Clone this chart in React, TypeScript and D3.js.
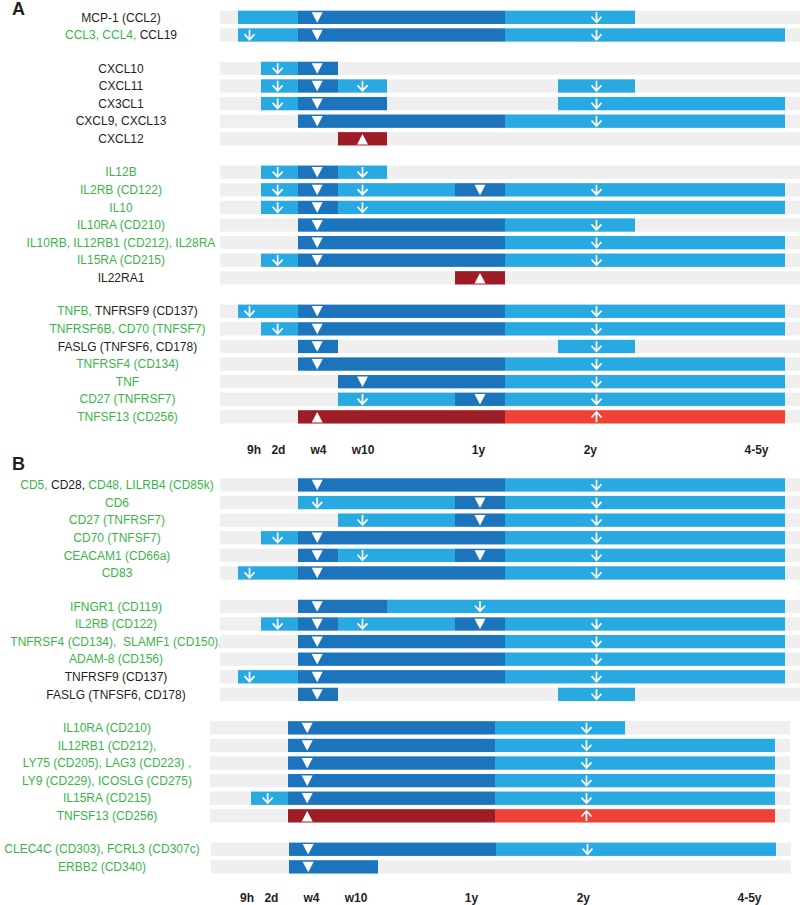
import React from 'react';
import * as d3 from 'd3';

type Row = { label: [string, string][]; segs: string; marks: string };

// colours
const FILL: Record<string, string> = { L: '#29a9e1', D: '#1c75bc', R: '#9e1c26', O: '#ef4136' };
const TEXT: Record<string, string> = { g: '#39b54a', k: '#231f20' };
const GREY = '#efefef';

// time axis
const tickLabels = ['9h', '2d', 'w4', 'w10', '1y', '2y', '4-5y'];
const tickIdx = [0.7, 1.47, 2.51, 3.51, 5.47, 7.42, 8.81];
const markerIdx: Record<string, number> = { '9h': 0.5, '2d': 1.45, w4: 2.48, w10: 3.5, '1y': 5.5, '2y': 7.5 };

// Panel A
const groupA1: Row[] = [
  { label: [['MCP-1 (CCL2)', 'k']], segs: 'L0-2 D2-6 L6-8', marks: 'w4:v 2y:a' },
  { label: [['CCL3, CCL4,', 'g'], [' CCL19', 'k']], segs: 'L0-2 D2-6 L6-9', marks: '9h:a w4:v 2y:a' },
];
const groupA2: Row[] = [
  { label: [['CXCL10', 'k']], segs: 'L1-2 D2-3', marks: '2d:a w4:v' },
  { label: [['CXCL11', 'k']], segs: 'L1-2 D2-3 L3-4 L7-8', marks: '2d:a w4:v w10:a 2y:a' },
  { label: [['CX3CL1', 'k']], segs: 'L1-2 D2-4 L7-9', marks: '2d:a w4:v 2y:a' },
  { label: [['CXCL9, CXCL13', 'k']], segs: 'D2-6 L6-9', marks: 'w4:v 2y:a' },
  { label: [['CXCL12', 'k']], segs: 'R3-4', marks: 'w10:^' },
];
const groupA3: Row[] = [
  { label: [['IL12B', 'g']], segs: 'L1-2 D2-3 L3-4', marks: '2d:a w4:v w10:a' },
  { label: [['IL2RB (CD122)', 'g']], segs: 'L1-2 D2-3 L3-5 D5-6 L6-9', marks: '2d:a w4:v w10:a 1y:v 2y:a' },
  { label: [['IL10', 'g']], segs: 'L1-2 D2-3 L3-9', marks: '2d:a w4:v w10:a' },
  { label: [['IL10RA (CD210)', 'g']], segs: 'D2-6 L6-8', marks: 'w4:v 2y:a' },
  { label: [['IL10RB, IL12RB1 (CD212), IL28RA', 'g']], segs: 'D2-6 L6-9', marks: 'w4:v 2y:a' },
  { label: [['IL15RA (CD215)', 'g']], segs: 'L1-2 D2-6 L6-9', marks: '2d:a w4:v 2y:a' },
  { label: [['IL22RA1', 'k']], segs: 'R5-6', marks: '1y:^' },
];
const groupA4: Row[] = [
  { label: [['TNFB,', 'g'], [' TNFRSF9 (CD137)', 'k']], segs: 'L0-2 D2-6 L6-9', marks: '9h:a w4:v 2y:a' },
  { label: [['TNFRSF6B, CD70 (TNFSF7)', 'g']], segs: 'L1-2 D2-6 L6-9', marks: '2d:a w4:v 2y:a' },
  { label: [['FASLG (TNFSF6, CD178)', 'k']], segs: 'D2-3 L7-8', marks: 'w4:v 2y:a' },
  { label: [['TNFRSF4 (CD134)', 'g']], segs: 'D2-6 L6-9', marks: 'w4:v 2y:a' },
  { label: [['TNF', 'g']], segs: 'D3-6 L6-9', marks: 'w10:v 2y:a' },
  { label: [['CD27 (TNFRSF7)', 'g']], segs: 'L3-5 D5-6 L6-9', marks: 'w10:a 1y:v 2y:a' },
  { label: [['TNFSF13 (CD256)', 'g']], segs: 'R2-6 O6-9', marks: 'w4:^ 2y:A' },
];

// Panel B
const groupB1: Row[] = [
  { label: [['CD5,', 'g'], [' CD28,', 'k'], [' CD48, LILRB4 (CD85k)', 'g']], segs: 'D2-6 L6-9', marks: 'w4:v 2y:a' },
  { label: [['CD6', 'g']], segs: 'L2-5 D5-6 L6-9', marks: 'w4:a 1y:v 2y:a' },
  { label: [['CD27 (TNFRSF7)', 'g']], segs: 'L3-5 D5-6 L6-9', marks: 'w10:a 1y:v 2y:a' },
  { label: [['CD70 (TNFSF7)', 'g']], segs: 'L1-2 D2-6 L6-9', marks: '2d:a w4:v 2y:a' },
  { label: [['CEACAM1 (CD66a)', 'g']], segs: 'D2-3 L3-5 D5-6 L6-9', marks: 'w4:v w10:a 1y:v 2y:a' },
  { label: [['CD83', 'g']], segs: 'L0-2 D2-6 L6-9', marks: '9h:a w4:v 2y:a' },
];
const groupB2: Row[] = [
  { label: [['IFNGR1 (CD119)', 'g']], segs: 'D2-4 L4-9', marks: 'w4:v 1y:a' },
  { label: [['IL2RB (CD122)', 'g']], segs: 'L1-2 D2-3 L3-5 D5-6 L6-9', marks: '2d:a w4:v w10:a 1y:v 2y:a' },
  { label: [['TNFRSF4 (CD134),  SLAMF1 (CD150),', 'g']], segs: 'D2-6 L6-9', marks: 'w4:v 2y:a' },
  { label: [['ADAM-8 (CD156)', 'g']], segs: 'D2-6 L6-9', marks: 'w4:v 2y:a' },
  { label: [['TNFRSF9 (CD137)', 'k']], segs: 'L0-2 D2-6 L6-9', marks: '9h:a w4:v 2y:a' },
  { label: [['FASLG (TNFSF6, CD178)', 'k']], segs: 'D2-3 L7-8', marks: 'w4:v 2y:a' },
];
const groupB3: Row[] = [
  { label: [['IL10RA (CD210)', 'g']], segs: 'D2-6 L6-8', marks: 'w4:v 2y:a' },
  { label: [['IL12RB1 (CD212),', 'g']], segs: 'D2-6 L6-9', marks: 'w4:v 2y:a' },
  { label: [['LY75 (CD205), LAG3 (CD223) ,', 'g']], segs: 'D2-6 L6-9', marks: 'w4:v 2y:a' },
  { label: [['LY9 (CD229), ICOSLG (CD275)', 'g']], segs: 'D2-6 L6-9', marks: 'w4:v 2y:a' },
  { label: [['IL15RA (CD215)', 'g']], segs: 'L1-2 D2-6 L6-9', marks: '2d:a w4:v 2y:a' },
  { label: [['TNFSF13 (CD256)', 'g']], segs: 'R2-6 O6-9', marks: 'w4:^ 2y:A' },
];
const groupB4: Row[] = [
  { label: [['CLEC4C (CD303), FCRL3 (CD307c)', 'g']], segs: 'D2-6 L6-9', marks: 'w4:v 2y:a' },
  { label: [['ERBB2 (CD340)', 'g']], segs: 'D2-4', marks: 'w4:v' },
];

// layout
const W = 800;
const H = 905;
const boundaryPx = [238, 261, 298, 338, 387, 455, 505, 558, 635, 785];
const PITCH = 17.6;
const BAR_H = 13.3;
const GAP_SLOTS = 0.9;

const panels = [
  { letter: 'A', letterY: 15, y0: 10.7, groups: [groupA1, groupA2, groupA3, groupA4], labelX: [121, 121, 121, 127.5], shift: [0, 0, 0, 0], axisY: 453.5, axisShift: 0 },
  { letter: 'B', letterY: 470, y0: 478.3, groups: [groupB1, groupB2, groupB3, groupB4], labelX: [117, 116, 107, 102], shift: [0, 0, -10, -9], axisY: 902, axisShift: -7 },
];

const x = d3.scaleLinear().domain(d3.range(boundaryPx.length)).range(boundaryPx);

function parseSegs(s: string) {
  return s.split(' ').map((t) => {
    const m = t.match(/^([A-Z])(\d+)-(\d+)$/)!;
    return { c: m[1], a: +m[2], b: +m[3] };
  });
}
function parseMarks(s: string) {
  return s.split(' ').map((t) => {
    const [k, type] = t.split(':');
    return { k, type };
  });
}

function Marker({ cx, top, type }: { cx: number; top: number; type: string }) {
  if (type === 'v') {
    return <path d={`M${cx - 5.5},${top + 1.5}L${cx + 5.5},${top + 1.5}L${cx},${top + 12}Z`} fill="#fff" />;
  }
  if (type === '^') {
    return <path d={`M${cx - 5.5},${top + 12.3}L${cx + 5.5},${top + 12.3}L${cx},${top + 1.8}Z`} fill="#fff" />;
  }
  if (type === 'a') {
    return (
      <path
        d={`M${cx},${top + 1.5}V${top + 11.5}M${cx - 5},${top + 6}L${cx},${top + 11.5}L${cx + 5},${top + 6}`}
        fill="none"
        stroke="#fff"
        strokeWidth={1.7}
      />
    );
  }
  return (
    <path
      d={`M${cx},${top + 11.8}V${top + 1.8}M${cx - 5},${top + 7.3}L${cx},${top + 1.8}L${cx + 5},${top + 7.3}`}
      fill="none"
      stroke="#fff"
      strokeWidth={1.7}
    />
  );
}

export default function App() {
  const font = "'Liberation Sans', Arial, Helvetica, sans-serif";
  return (
    <svg width={W} height={H} style={{ position: 'absolute', left: 0, top: 0 }} fontFamily={font}>
      <rect x={0} y={0} width={W} height={H} fill="#fff" />
      {panels.map((p) => {
        const y = d3.scaleLinear().domain([0, 1]).range([p.y0, p.y0 + PITCH]);
        let slot = 0;
        return (
          <g key={p.letter}>
            <text x={12} y={p.letterY} fontSize={18} fontWeight="bold" fill="#231f20">
              {p.letter}
            </text>
            {p.groups.map((rows, gi) => {
              const gEls = rows.map((r, ri) => {
                const top = y(slot + ri + gi * GAP_SLOTS);
                return (
                  <g key={ri}>
                    <text
                      x={p.labelX[gi]}
                      y={top + BAR_H / 2 + 4.2}
                      fontSize={12}
                      textAnchor="middle"
                    >
                      {r.label.map(([t, c], i) => (
                        <tspan key={i} fill={TEXT[c]} style={{ whiteSpace: 'pre' }}>
                          {t}
                        </tspan>
                      ))}
                    </text>
                    <g transform={`translate(${p.shift[gi]},0)`}>
                      <rect x={x(0) - 18} y={top} width={W - (x(0) - 18)} height={BAR_H} fill={GREY} />
                      {parseSegs(r.segs).map((s, i) => (
                        <rect key={i} x={x(s.a)} y={top} width={x(s.b) - x(s.a)} height={BAR_H} fill={FILL[s.c]} />
                      ))}
                      {parseMarks(r.marks).map((m, i) => (
                        <Marker key={i} cx={x(markerIdx[m.k])} top={top} type={m.type} />
                      ))}
                    </g>
                  </g>
                );
              });
              slot += rows.length;
              return <g key={gi}>{gEls}</g>;
            })}
            <g transform={`translate(${p.axisShift},0)`}>
              {tickLabels.map((t, i) => (
                <text
                  key={t}
                  x={x(tickIdx[i])}
                  y={p.axisY}
                  fontSize={12}
                  fontWeight="bold"
                  textAnchor="middle"
                  fill="#231f20"
                >
                  {t}
                </text>
              ))}
            </g>
          </g>
        );
      })}
    </svg>
  );
}
